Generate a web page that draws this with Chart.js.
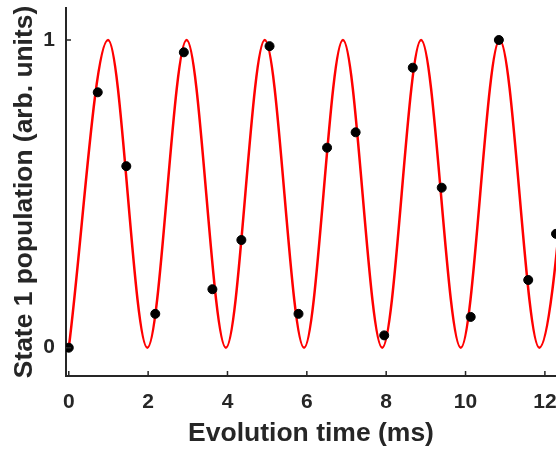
<!DOCTYPE html>
<html>
<head>
<meta charset="utf-8">
<script src="https://cdn.jsdelivr.net/npm/chart.js@4"></script>
<style>
  html, body { margin: 0; padding: 0; background: #fff; }
  #wrap { width: 556px; height: 453px; }
</style>
</head>
<body>
<div id="wrap"><canvas id="rabiChart" width="556" height="453"></canvas></div>
<script>
// measured populations (ms, arb. units)
const measTime = [0, 0.73, 1.45, 2.18, 2.90, 3.62, 4.35, 5.06, 5.79, 6.51, 7.23, 7.95, 8.67, 9.40, 10.13, 10.84, 11.58, 12.28];
const measPop = [0, 0.83, 0.59, 0.11, 0.96, 0.19, 0.35, 0.98, 0.11, 0.65, 0.70, 0.04, 0.91, 0.52, 0.10, 1.0, 0.22, 0.37];

// fitted curve, turning points (troughs at 0, peaks at 1)
const fitTime = [0, 0.99, 1.98, 2.97, 3.96, 4.94, 5.93, 6.91, 7.90, 8.88, 9.88, 10.86, 11.86, 12.84];
const fitPop = [0, 1, 0, 1, 0, 1, 0, 1, 0, 1, 0, 1, 0, 1];

const xTicks = [0, 2, 4, 6, 8, 10, 12];
const yTicks = [0, 1];

const axisColor = '#262626';
const font = { family: '"Liberation Sans", Arial, sans-serif', weight: 'bold' };

// short tick marks drawn inside the plot area
const innerTicks = {
  id: 'innerTicks',
  afterDraw(chart) {
    const { ctx, chartArea, scales } = chart;
    ctx.save();
    ctx.strokeStyle = axisColor;
    ctx.lineWidth = 1.5;
    ctx.beginPath();
    xTicks.forEach(v => {
      const px = scales.x.getPixelForValue(v);
      if (px > chartArea.right) return;
      ctx.moveTo(px, chartArea.bottom);
      ctx.lineTo(px, chartArea.bottom - 5);
    });
    yTicks.forEach(v => {
      const py = scales.y.getPixelForValue(v);
      ctx.moveTo(chartArea.left, py);
      ctx.lineTo(chartArea.left + 5, py);
    });
    ctx.stroke();
    ctx.restore();
  }
};

new Chart(document.getElementById('rabiChart'), {
  type: 'scatter',
  data: {
    datasets: [{
      label: 'fit',
      type: 'line',
      data: fitTime.map((t, i) => ({ x: t, y: fitPop[i] })),
      borderColor: '#ff0000',
      borderWidth: 2.5,
      pointRadius: 0,
      cubicInterpolationMode: 'monotone',
      fill: false,
      order: 2
    }, {
      label: 'data',
      data: measTime.map((t, i) => ({ x: t, y: measPop[i] })),
      backgroundColor: '#000',
      borderColor: '#000',
      pointRadius: 4.5,
      order: 1
    }]
  },
  options: {
    responsive: false,
    animation: false,
    layout: { autoPadding: false, padding: { top: 8, right: 0, left: 0, bottom: 0 } },
    plugins: { legend: { display: false }, tooltip: { enabled: false } },
    scales: {
      x: {
        type: 'linear',
        min: -0.07,
        max: 12.28,
        afterBuildTicks: s => { s.ticks = xTicks.map(v => ({ value: v })); },
        afterFit: s => { s.height = 77; s.paddingLeft = 0; s.paddingRight = 0; },
        grid: { display: false, drawTicks: false },
        border: { display: true, color: axisColor, width: 2 },
        ticks: { color: axisColor, padding: 14, font: { ...font, size: 21 }, maxRotation: 0, autoSkip: false },
        title: { display: true, text: 'Evolution time (ms)', color: axisColor, font: { ...font, size: 26.5 }, padding: { top: 0, bottom: 3 } }
      },
      y: {
        type: 'linear',
        min: -0.092,
        max: 1.104,
        afterBuildTicks: s => { s.ticks = yTicks.map(v => ({ value: v })); },
        afterFit: s => { s.width = 66; s.paddingTop = 0; s.paddingBottom = 0; },
        grid: { display: false, drawTicks: false },
        border: { display: true, color: axisColor, width: 2 },
        ticks: { color: axisColor, padding: 11, font: { ...font, size: 21 } },
        title: { display: true, text: 'State 1 population (arb. units)', color: axisColor, font: { ...font, size: 26.4 }, padding: { top: 9, bottom: 0 } }
      }
    }
  },
  plugins: [innerTicks]
});
</script>
</body>
</html>
